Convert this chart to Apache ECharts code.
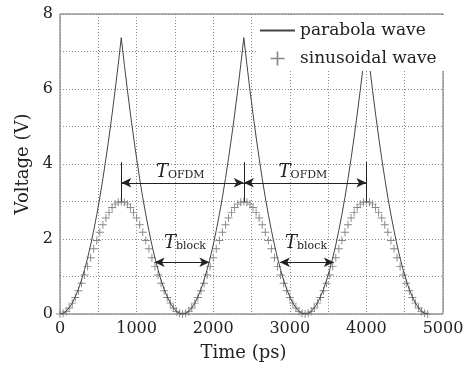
<!DOCTYPE html>
<html><head><meta charset="utf-8">
<script src="https://cdn.jsdelivr.net/npm/echarts@6/dist/echarts.min.js"></script>
<style>html,body{margin:0;padding:0;background:#fff}#c{width:468px;height:370px}</style>
</head><body><div id="c"></div>
<script>
// time samples (ps)
const timePs = [0,40,80,120,160,200,240,280,320,360,400,440,480,520,560,600,640,680,720,760,
800,840,880,920,960,1000,1040,1080,1120,1160,1200,1240,1280,1320,1360,1400,1440,1480,1520,1560,
1600,1640,1680,1720,1760,1800,1840,1880,1920,1960,2000,2040,2080,2120,2160,2200,2240,2280,2320,2360,
2400,2440,2480,2520,2560,2600,2640,2680,2720,2760,2800,2840,2880,2920,2960,3000,3040,3080,3120,3160,
3200,3240,3280,3320,3360,3400,3440,3480,3520,3560,3600,3640,3680,3720,3760,3800,3840,3880,3920,3960,
4000,4040,4080,4120,4160,4200,4240,4280,4320,4360,4400,4440,4480,4520,4560,4600,4640,4680,4720,4760,4800];
// parabola wave voltage (V)
const parabolaWave = [0,0.02,0.07,0.17,0.29,0.46,0.66,0.9,1.18,1.49,1.84,2.23,2.65,3.11,3.61,4.15,4.72,5.33,5.97,6.65,
7.37,6.65,5.97,5.33,4.72,4.15,3.61,3.11,2.65,2.23,1.84,1.49,1.18,0.9,0.66,0.46,0.29,0.17,0.07,0.02,
0,0.02,0.07,0.17,0.29,0.46,0.66,0.9,1.18,1.49,1.84,2.23,2.65,3.11,3.61,4.15,4.72,5.33,5.97,6.65,
7.37,6.65,5.97,5.33,4.72,4.15,3.61,3.11,2.65,2.23,1.84,1.49,1.18,0.9,0.66,0.46,0.29,0.17,0.07,0.02,
0,0.02,0.07,0.17,0.29,0.46,0.66,0.9,1.18,1.49,1.84,2.23,2.65,3.11,3.61,4.15,4.72,5.33,5.97,6.65,
7.37,6.65,5.97,5.33,4.72,4.15,3.61,3.11,2.65,2.23,1.84,1.49,1.18,0.9,0.66,0.46,0.29,0.17,0.07,0.02,0];
// sinusoidal wave voltage (V)
const sinusoidalWave = [0,0.02,0.07,0.16,0.29,0.44,0.62,0.82,1.04,1.27,1.5,1.74,1.96,2.18,2.38,2.56,2.71,2.84,2.93,2.98,
3,2.98,2.93,2.84,2.71,2.56,2.38,2.18,1.96,1.74,1.5,1.27,1.04,0.82,0.62,0.44,0.29,0.16,0.07,0.02,
0,0.02,0.07,0.16,0.29,0.44,0.62,0.82,1.04,1.27,1.5,1.74,1.96,2.18,2.38,2.56,2.71,2.84,2.93,2.98,
3,2.98,2.93,2.84,2.71,2.56,2.38,2.18,1.96,1.74,1.5,1.27,1.04,0.82,0.62,0.44,0.29,0.16,0.07,0.02,
0,0.02,0.07,0.16,0.29,0.44,0.62,0.82,1.04,1.27,1.5,1.74,1.96,2.18,2.38,2.56,2.71,2.84,2.93,2.98,
3,2.98,2.93,2.84,2.71,2.56,2.38,2.18,1.96,1.74,1.5,1.27,1.04,0.82,0.62,0.44,0.29,0.16,0.07,0.02,0];
const xTickLabels = [0,1000,2000,3000,4000,5000];
const yTickLabels = [0,2,4,6,8];
// annotations
const peakTimes = [800,2400,4000];
const peakMarkRange = [3,4.05];
const ofdmArrowLevel = 3.5;
const ofdmArrows = [[800,2400],[2400,4000]];
const ofdmLabelPos = [[1570,3.78],[3172,3.78]];
const blockArrowLevel = 1.38;
const blockArrows = [[1235,1950],[2870,3575]];
const blockLabelPos = [[1632,1.88],[3212,1.88]];

const FONT = 'DejaVu Serif';
const chart = echarts.init(document.getElementById('c'), null, {renderer:'canvas'});

const markLines = [];
peakTimes.forEach(t => markLines.push([{coord:[t,peakMarkRange[0]],symbol:'none'},{coord:[t,peakMarkRange[1]],symbol:'none'}]));
ofdmArrows.forEach(a => markLines.push([{coord:[a[0],ofdmArrowLevel]},{coord:[a[1],ofdmArrowLevel]}]));
blockArrows.forEach(a => markLines.push([{coord:[a[0],blockArrowLevel]},{coord:[a[1],blockArrowLevel]}]));

const rich = {
  t:{fontFamily:FONT,fontStyle:'italic',fontSize:18,color:'#222'},
  s:{fontFamily:FONT,fontSize:11,color:'#222',padding:[6,0,0,0]}
};
const markPoints = [];
ofdmLabelPos.forEach(p => markPoints.push({coord:p,label:{formatter:'{t|T}{s|OFDM}'}}));
blockLabelPos.forEach(p => markPoints.push({coord:p,label:{formatter:'{t|T}{s|block}'}}));

const option = {
  animation:false,
  grid:{left:60,right:25,top:14,bottom:56,show:true,borderColor:'#666',borderWidth:1,backgroundColor:'transparent'},
  legend:{
    left:256, top:15, orient:'vertical', itemWidth:35, itemHeight:14, itemGap:11,
    padding:[7,8,4,3], backgroundColor:'#fff', selectedMode:false,
    textStyle:{fontFamily:FONT,fontSize:17,color:'#222'},
    data:[
      {name:'parabola wave',itemStyle:{opacity:0}},
      {name:'sinusoidal wave'}
    ]
  },
  xAxis:{
    type:'value',min:0,max:5000,interval:500,
    name:'Time (ps)',nameLocation:'middle',nameGap:30,
    nameTextStyle:{fontFamily:FONT,fontSize:18,color:'#222',padding:[0,16,0,0]},
    axisLine:{show:false},axisTick:{show:false},
    axisLabel:{fontFamily:FONT,fontSize:16,color:'#222',margin:7,
      formatter:v=>xTickLabels.indexOf(v)>=0?String(v):''},
    splitLine:{show:true,lineStyle:{color:'#888',type:[1,2],width:1}}
  },
  yAxis:{
    type:'value',min:0,max:8,interval:1,
    name:'Voltage (V)',nameLocation:'middle',nameGap:28,
    nameTextStyle:{fontFamily:FONT,fontSize:18,color:'#222'},
    axisLine:{show:false},axisTick:{show:false},
    axisLabel:{fontFamily:FONT,fontSize:16,color:'#222',margin:7,
      formatter:v=>yTickLabels.indexOf(v)>=0?String(v):''},
    splitLine:{show:true,lineStyle:{color:'#888',type:[1,2],width:1}}
  },
  series:[
    {
      name:'parabola wave',type:'line',showSymbol:false,symbol:'none',
      data:timePs.map((t,i)=>[t,parabolaWave[i]]),
      lineStyle:{color:'#444',width:1},itemStyle:{color:'#444'},
      z:3,
      markLine:{silent:true,symbol:['arrow','arrow'],symbolSize:[7,10],
        label:{show:false},lineStyle:{color:'#222',width:1,type:'solid'},
        emphasis:{disabled:true},data:markLines},
      markPoint:{silent:true,symbol:'circle',symbolSize:0,
        label:{show:true,position:'inside',rich:rich},data:markPoints}
    },
    {
      name:'sinusoidal wave',type:'scatter',
      symbol:'path://M4.4,0H5.6V4.4H10V5.6H5.6V10H4.4V5.6H0V4.4H4.4Z',symbolSize:8,
      data:timePs.map((t,i)=>[t,sinusoidalWave[i]]),
      itemStyle:{color:'#888',opacity:1},z:2
    }
  ]
};
chart.setOption(option);
</script></body></html>
